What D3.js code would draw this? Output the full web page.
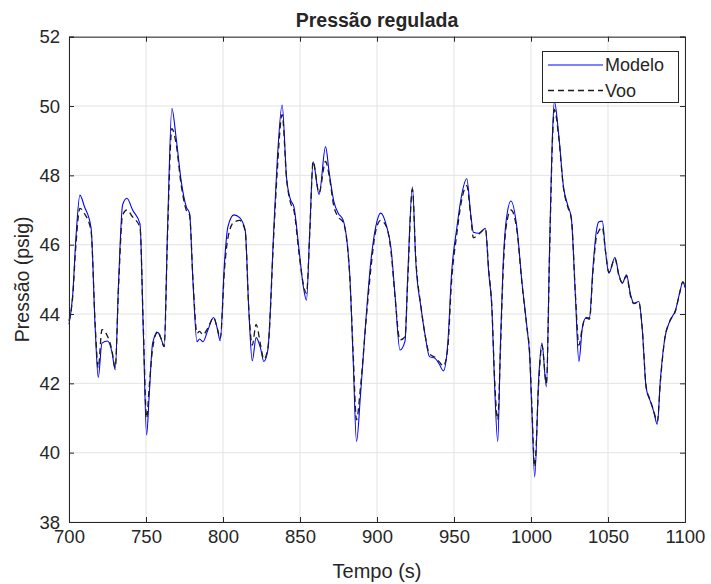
<!DOCTYPE html>
<html>
<head>
<meta charset="utf-8">
<script src="https://cdn.jsdelivr.net/npm/d3@7"></script>
<style>
  body { margin: 0; background: #fff; }
  svg { display: block; }
  text { font-family: "Liberation Sans", Arial, Helvetica, sans-serif; fill: #262626; }
</style>
</head>
<body>
<svg id="chart" width="711" height="584"></svg>
<script>
// ---- data ----
const title = "Pressão regulada";
const xLabel = "Tempo (s)";
const yLabel = "Pressão (psig)";
const seriesNames = ["Modelo", "Voo"];
const xTicks = [700, 750, 800, 850, 900, 950, 1000, 1050, 1100];
const yTicks = [38, 40, 42, 44, 46, 48, 50, 52];

const tempo = [
  700, 702.4, 704.5, 707.1, 710, 714.3, 717, 719, 721.4, 725.1, 727.9, 730, 732.2, 734.8, 737.6, 741.3, 746.1, 748.2,
  750.4, 752.1, 754.3, 757.6, 759.7, 761.8, 764, 766.8, 769.6, 772.9, 776.1, 778.3, 780.5, 783.1, 784.8, 787, 790.2,
  793.9, 796.2, 798.2, 801, 803.2, 807.1, 810.8, 814.4, 816.8, 819, 821.5, 824.4, 826.5, 829.1, 833, 835.2, 838.4,
  841.3, 843.9, 846, 849.5, 852, 854.2, 856.4, 858.5, 862.4, 866.6, 868.9, 872, 874.8, 878, 882.3, 884.5, 886.7,
  889.3, 892.7, 896, 899.2, 902.4, 906.3, 909.1, 911.7, 914.9, 918.2, 919.9, 923, 925.2, 928.6, 931.2, 934.1, 937.7,
  940.5, 943.1, 945.9, 948.5, 951.8, 954.6, 958.3, 960.9, 962.6, 966, 970.4, 972.5, 974.7, 976.2, 978.4, 980.1,
  981.8, 983.8, 987, 990.9, 994.1, 997.4, 999.1, 1000.6, 1002.4, 1005, 1007.1, 1010, 1012.1, 1014.1, 1015.2, 1018,
  1021.2, 1023.8, 1026.2, 1028.8, 1031.1, 1033.3, 1035.4, 1038, 1040.2, 1042.4, 1044.1, 1046.3, 1048.4, 1050.6,
  1054.5, 1057.1, 1059.3, 1062, 1064.7, 1066.8, 1070, 1072.2, 1074.8, 1077.6, 1079.7, 1082, 1084.1, 1086.9, 1090,
  1093.9, 1096.5, 1098.6, 1100
];
const modelo = [
  43.7, 44.55, 46.2, 47.43, 47.1, 46.5, 43.6, 42.17, 43.16, 43.22, 42.9, 42.39, 44.93, 47.15, 47.34, 47.0, 46.6, 43.6,
  40.51, 41.67, 43.16, 43.47, 43.3, 43.06, 46.47, 49.93, 49.07, 47.82, 47.1, 46.9, 44.93, 43.2, 43.28, 43.2, 43.54,
  43.9, 43.6, 43.23, 45.51, 46.52, 46.86, 46.78, 46.42, 44.07, 42.65, 43.32, 43.01, 42.63, 42.96, 46.47, 48.4, 50.03,
  47.92, 47.29, 47.1, 45.8, 44.84, 44.4, 46.47, 48.39, 47.45, 48.83, 48.1, 47.24, 46.91, 46.71, 45.13, 42.72, 40.32,
  41.67, 43.78, 45.51, 46.52, 46.91, 46.52, 45.9, 44.55, 42.96, 43.22, 45.03, 47.67, 45.51, 44.17, 43.4, 42.77, 42.72,
  42.55, 42.36, 43.11, 45.22, 46.47, 47.34, 47.9, 46.86, 46.36, 46.33, 46.47, 45.22, 44.07, 42.15, 40.32, 43.01,
  45.32, 46.66, 47.26, 46.47, 44.93, 43.6, 42.82, 41.18, 39.3, 42.15, 43.16, 41.9, 45.99, 49.36, 50.13, 49.17,
  47.63, 47.15, 46.76, 44.55, 42.63, 43.59, 43.88, 43.9, 45.32, 46.38, 46.66, 46.68, 45.8, 45.18,
  45.63, 45.13, 44.89, 45.13, 44.55, 44.31, 44.36, 43.59, 41.86, 41.47, 41.18, 40.82, 42.15, 43.3, 43.78,
  44.12, 44.6, 44.93, 44.76
];
const voo = [
  43.8, 44.5, 46.0, 47.05, 46.9, 46.4, 43.7, 42.45, 43.55, 43.35, 42.95, 42.45, 44.8, 46.85, 47.0, 46.8, 46.5, 43.7,
  41.0, 41.9, 43.0, 43.5, 43.3, 43.06, 46.3, 49.35, 48.9, 47.7, 47.0, 46.85, 45.0, 43.45, 43.5, 43.4, 43.6,
  43.9, 43.6, 43.3, 45.3, 46.2, 46.65, 46.7, 46.4, 44.1, 43.1, 43.7, 43.1, 42.7, 43.0, 46.3, 48.1, 49.75,
  47.9, 47.2, 47.0, 45.7, 44.9, 44.6, 46.4, 48.4, 47.5, 48.4, 48.0, 47.1, 46.8, 46.65, 45.1, 42.9, 40.95,
  41.9, 43.7, 45.3, 46.4, 46.7, 46.5, 45.8, 44.5, 43.25, 43.35, 44.9, 47.6, 45.6, 44.2, 43.4, 42.85, 42.75,
  42.62, 42.5, 43.0, 45.0, 46.3, 47.2, 47.7, 46.8, 46.2, 46.3, 46.45, 45.3, 44.1, 42.3, 40.95, 42.9,
  45.1, 46.5, 47.0, 46.4, 44.9, 43.6, 42.9, 41.3, 39.6, 42.0, 43.1, 42.0, 45.8, 49.2, 49.9, 49.1,
  47.6, 47.1, 46.75, 44.6, 43.1, 43.6, 43.9, 43.85, 45.2, 46.2, 46.4, 46.5, 45.8, 45.2,
  45.6, 45.1, 44.9, 45.1, 44.5, 44.3, 44.35, 43.6, 41.9, 41.5, 41.2, 40.9, 42.1, 43.3, 43.78,
  44.1, 44.6, 44.93, 44.8
];

// ---- layout ----
const svg = d3.select("#chart");
const L = 69, R = 685, T = 36.7, B = 522;
const x = d3.scaleLinear().domain([700, 1100]).range([L, R]);
const y = d3.scaleLinear().domain([38, 52]).range([B, T]);

// grid
const grid = svg.append("g");
grid.selectAll("line.gx").data(xTicks).enter().append("line")
  .attr("x1", d => x(d)).attr("x2", d => x(d)).attr("y1", T).attr("y2", B)
  .attr("stroke", "#e3e3e3").attr("stroke-width", 1);
grid.selectAll("line.gy").data(yTicks).enter().append("line")
  .attr("x1", L).attr("x2", R).attr("y1", d => y(d)).attr("y2", d => y(d))
  .attr("stroke", "#e3e3e3").attr("stroke-width", 1);

// lines
const lineM = d3.line().x((d, i) => x(tempo[i])).y(d => y(d)).curve(d3.curveMonotoneX);
svg.append("path").datum(modelo).attr("d", lineM)
  .attr("fill", "none").attr("stroke", "#0000ff").attr("stroke-width", 1.1);
svg.append("path").datum(voo).attr("d", lineM)
  .attr("fill", "none").attr("stroke", "#1a1a1a").attr("stroke-width", 1.3)
  .attr("stroke-dasharray", "6,4");

// axes
const tickSize = 5;
const fmt = d3.format("d");
const axB = svg.append("g").attr("transform", `translate(0,${B})`)
  .call(d3.axisBottom(x).tickValues(xTicks).tickSize(-tickSize).tickPadding(8).tickFormat(fmt));
const axT = svg.append("g").attr("transform", `translate(0,${T})`)
  .call(d3.axisTop(x).tickValues(xTicks).tickSize(-tickSize).tickFormat(""));
const axL = svg.append("g").attr("transform", `translate(${L},0)`)
  .call(d3.axisLeft(y).tickValues(yTicks).tickSize(-tickSize).tickPadding(9).tickFormat(fmt));
const axR = svg.append("g").attr("transform", `translate(${R},0)`)
  .call(d3.axisRight(y).tickValues(yTicks).tickSize(-tickSize).tickFormat(""));
[axB, axT, axL, axR].forEach(a => {
  a.select(".domain").attr("stroke", "#262626").attr("stroke-width", 1);
  a.selectAll(".tick line").attr("stroke", "#262626");
  a.selectAll(".tick text").attr("font-size", 18.5).attr("fill", "#262626")
    .style("font-family", "'Liberation Sans', Arial, sans-serif");
});
axB.selectAll(".tick text").attr("dy", "0.72em");
axL.selectAll(".tick text").attr("dy", "0.34em");

// title & labels
svg.append("text").attr("x", (L + R) / 2).attr("y", 27).attr("text-anchor", "middle")
  .attr("font-size", 19.5).attr("font-weight", "bold").attr("fill", "#000").text(title);
svg.append("text").attr("x", (L + R) / 2).attr("y", 578).attr("text-anchor", "middle")
  .attr("font-size", 20).text(xLabel);
svg.append("text").attr("transform", `translate(29,${(T + B) / 2}) rotate(-90)`)
  .attr("text-anchor", "middle").attr("font-size", 19.5).text(yLabel);

// legend
const lg = svg.append("g");
lg.append("rect").attr("x", 542.5).attr("y", 51.5).attr("width", 136).attr("height", 51)
  .attr("fill", "#fff").attr("stroke", "#262626").attr("stroke-width", 1);
const legendItems = [
  { name: seriesNames[0], color: "#0000ff", dash: null, w: 1.1 },
  { name: seriesNames[1], color: "#1a1a1a", dash: "6,4", w: 1.3 }
];
legendItems.forEach((it, i) => {
  const yy = 65 + i * 25.5;
  lg.append("line").attr("x1", 548).attr("x2", 603).attr("y1", yy).attr("y2", yy)
    .attr("stroke", it.color).attr("stroke-width", it.w)
    .attr("stroke-dasharray", it.dash);
  lg.append("text").attr("x", 605).attr("y", yy).attr("dy", "0.35em")
    .attr("font-size", 18).text(it.name);
});
</script>
</body>
</html>
